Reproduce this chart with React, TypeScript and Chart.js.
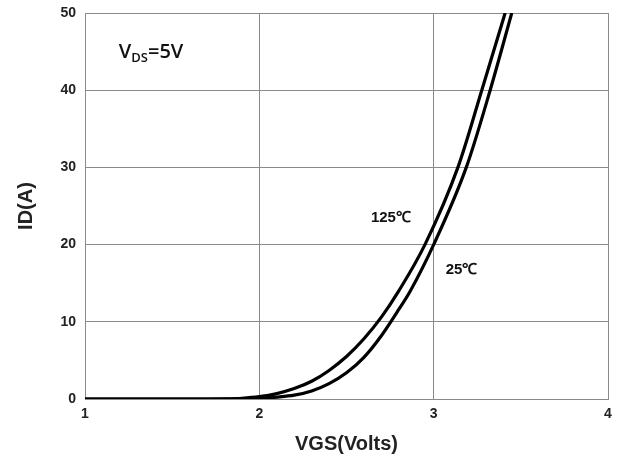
import React, { useEffect, useRef } from "react";
import { Chart, registerables } from "chart.js";
Chart.register(...registerables);

// 125°C curve
const vgs125 = [1.0, 1.6, 1.8, 1.9, 2.0, 2.1, 2.2, 2.3, 2.4, 2.5, 2.6, 2.7, 2.8, 2.95, 3.139, 3.276, 3.41];
const id125 = [0, 0, 0.03, 0.1, 0.3, 0.7, 1.35, 2.3, 3.7, 5.5, 7.8, 10.6, 14, 20, 30, 40, 50];
// 25°C curve
const vgs25 = [1.0, 1.7, 1.9, 2.0, 2.1, 2.2, 2.3, 2.4, 2.5, 2.6, 2.7, 2.8, 2.866, 3.0, 3.187, 3.324, 3.448];
const id25 = [0, 0, 0.03, 0.1, 0.25, 0.5, 1.05, 2.0, 3.4, 5.4, 8.2, 11.6, 14, 20, 30, 40, 50];

const xTicks = [1, 2, 3, 4];
const yTicks = [0, 10, 20, 30, 40, 50];

const label125 = { text: "125\u2103", x: 2.64, y: 23.5 };
const label25 = { text: "25\u2103", x: 3.069, y: 16.7 };
const vdsLabel = { x: 1.194, y: 44.9 };

const FONT = "'Liberation Sans', Arial, sans-serif";

export default function App() {
  const ref = useRef<HTMLCanvasElement | null>(null);
  useEffect(() => {
    document.body.style.margin = "0";
    const canvas = ref.current;
    if (!canvas) return;
    const annot = {
      id: "annot",
      afterDatasetsDraw(chart: any) {
        const { ctx, scales } = chart;
        const xs = scales.x, ys = scales.y;
        ctx.save();
        ctx.fillStyle = "#111";
        ctx.textBaseline = "middle";
        ctx.textAlign = "left";
        ctx.font = `bold 15px ${FONT}`;
        ctx.fillText(label125.text, xs.getPixelForValue(label125.x), ys.getPixelForValue(label125.y));
        ctx.fillText(label25.text, xs.getPixelForValue(label25.x), ys.getPixelForValue(label25.y));
        // V_DS=5V
        let px = xs.getPixelForValue(vdsLabel.x);
        const py = ys.getPixelForValue(vdsLabel.y);
        ctx.font = `600 20px 'Open Sans', sans-serif`;
        ctx.fillText("V", px, py);
        px += ctx.measureText("V").width;
        ctx.font = `600 13px 'Open Sans', sans-serif`;
        ctx.fillText("DS", px, py + 6);
        px += ctx.measureText("DS").width;
        ctx.font = `600 20px 'Open Sans', sans-serif`;
        ctx.fillText("=5V", px, py);
        ctx.restore();
      },
    };
    const chart = new Chart(canvas, {
      type: "line",
      data: {
        datasets: [
          {
            label: "125\u2103",
            data: vgs125.map((v, i) => ({ x: v, y: id125[i] })),
            borderColor: "#000",
            borderWidth: 3.2,
            pointRadius: 0,
            fill: false,
            cubicInterpolationMode: "monotone",
          },
          {
            label: "25\u2103",
            data: vgs25.map((v, i) => ({ x: v, y: id25[i] })),
            borderColor: "#000",
            borderWidth: 3.2,
            pointRadius: 0,
            fill: false,
            cubicInterpolationMode: "monotone",
          },
        ],
      },
      options: {
        animation: false,
        responsive: false,
        maintainAspectRatio: false,
        devicePixelRatio: 1,
        layout: { padding: { top: 13, right: 9, left: 0, bottom: 0 } },
        plugins: { legend: { display: false }, tooltip: { enabled: false } },
        scales: {
          x: {
            type: "linear",
            min: 1,
            max: 4,
            afterBuildTicks: (s: any) => {
              s.ticks = xTicks.map((v) => ({ value: v }));
            },
            afterFit: (s: any) => {
              s.height = 63;
              s.paddingLeft = 0;
              s.paddingRight = 0;
            },
            grid: { color: "#8a8a8a", lineWidth: 1, drawTicks: false },
            border: { display: true, color: "#8a8a8a" },
            ticks: {
              padding: 7,
              color: "#222",
              font: { family: FONT, size: 14, weight: "bold" },
              maxRotation: 0,
            },
            title: {
              display: true,
              text: "VGS(Volts)",
              color: "#222",
              font: { family: FONT, size: 20, weight: "bold" },
              padding: { top: 0, bottom: 6 },
            },
          },
          y: {
            type: "linear",
            min: 0,
            max: 50,
            afterBuildTicks: (s: any) => {
              s.ticks = yTicks.map((v) => ({ value: v }));
            },
            afterFit: (s: any) => {
              s.width = 85;
              s.paddingTop = 0;
              s.paddingBottom = 0;
            },
            grid: { color: "#8a8a8a", lineWidth: 1, drawTicks: false },
            border: { display: true, color: "#8a8a8a" },
            ticks: {
              padding: 9,
              color: "#222",
              font: { family: FONT, size: 14, weight: "bold" },
            },
            title: {
              display: true,
              text: "ID(A)",
              color: "#222",
              font: { family: FONT, size: 20, weight: "bold" },
              padding: { top: 14, bottom: 0 },
            },
          },
        },
      },
      plugins: [annot],
    });
    return () => chart.destroy();
  }, []);
  return (
    <div style={{ position: "fixed", left: 0, top: 0, width: 617, height: 462, background: "#fff" }}>
      <canvas ref={ref} width={617} height={462} style={{ width: 617, height: 462 }} />
    </div>
  );
}
